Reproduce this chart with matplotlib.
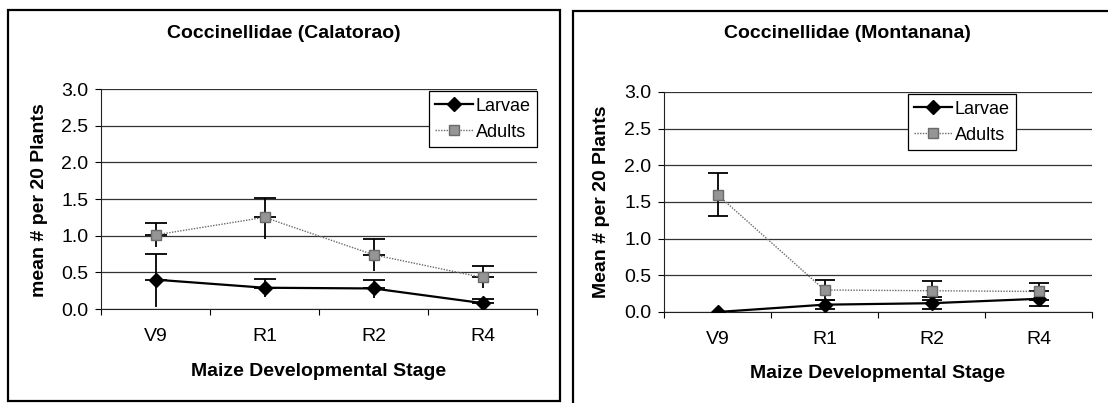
import matplotlib.pyplot as plt
import numpy as np
from matplotlib.patches import Rectangle

plt.rcParams['font.family'] = ['Liberation Sans', 'DejaVu Sans']

stages = ["V9", "R1", "R2", "R4"]
yticks = [0.0, 0.5, 1.0, 1.5, 2.0, 2.5, 3.0]

# Calatorao
cal_larvae = [0.40, 0.29, 0.28, 0.08]
cal_larvae_up = [0.35, 0.12, 0.12, 0.06]
cal_larvae_lo = [0.37, 0.13, 0.13, 0.05]
cal_adults = [1.01, 1.25, 0.74, 0.43]
cal_adults_up = [0.16, 0.27, 0.21, 0.15]
cal_adults_lo = [0.17, 0.29, 0.22, 0.15]

# Montanana
mon_larvae = [0.0, 0.10, 0.12, 0.18]
mon_larvae_err = [0.0, 0.06, 0.08, 0.10]
mon_adults = [1.60, 0.30, 0.29, 0.28]
mon_adults_err = [0.29, 0.13, 0.13, 0.12]

W, H = 1108, 403
fig = plt.figure(figsize=(W / 100, H / 100), dpi=100)


def px(x0, y0, x1, y1):
    # pixel box (top-left origin) -> figure fraction rect
    return [x0 / W, 1 - y1 / H, (x1 - x0) / W, (y1 - y0) / H]


def style_axes(ax):
    x = np.arange(len(stages))
    ax.set_xlim(-0.5, 3.5)
    ax.set_ylim(0, 3.0)
    ax.set_xticks(x)
    ax.set_xticklabels(stages, fontsize=14)
    ax.set_xticks(np.arange(-0.5, 4.0, 1.0), minor=True)
    ax.tick_params(axis='x', which='major', length=0, pad=14)
    ax.tick_params(axis='x', which='minor', length=4, width=0.8, direction='out')
    ax.set_yticks(yticks)
    ax.set_yticklabels([f"{v:.1f}" for v in yticks], fontsize=14)
    ax.tick_params(axis='y', length=4, width=0.8, direction='out', pad=5)
    ax.yaxis.grid(True, color='#333333', linewidth=0.9)
    ax.set_axisbelow(True)
    for s in ['top', 'right']:
        ax.spines[s].set_visible(False)
    ax.spines['left'].set_color('#222222')
    ax.spines['bottom'].set_color('#222222')


def adults_style():
    return dict(color='#6a6a6a', linewidth=1.0, linestyle=(0, (1, 1)),
                marker='s', markersize=7, markerfacecolor='#959595',
                markeredgecolor='#6a6a6a', label='Adults', zorder=4)


def larvae_style():
    return dict(color='black', linewidth=1.6, marker='D', markersize=7,
                label='Larvae', zorder=4)


x = np.arange(len(stages))
bar_kw = dict(fmt='none', ecolor='black', elinewidth=1.3, zorder=3)

# ---- left panel: Calatorao (caps only on the upper end) ----
ax1 = fig.add_axes(px(101, 89, 537, 309))
style_axes(ax1)
for vals, up, lo in [(cal_larvae, cal_larvae_up, cal_larvae_lo),
                     (cal_adults, cal_adults_up, cal_adults_lo)]:
    ax1.errorbar(x, vals, yerr=[np.zeros(4), up], capsize=8, capthick=1.3, **bar_kw)
    ax1.errorbar(x, vals, yerr=[lo, np.zeros(4)], capsize=0, **bar_kw)
ax1.plot(x, cal_larvae, **larvae_style())
ax1.plot(x, cal_adults, **adults_style())

# ---- right panel: Montanana ----
ax2 = fig.add_axes(px(664, 92, 1092, 312))
style_axes(ax2)
ml = np.array(mon_larvae_err) > 0
ax2.errorbar(x[ml], np.array(mon_larvae)[ml], yerr=np.array(mon_larvae_err)[ml],
             capsize=7.5, capthick=1.3, **bar_kw)
ax2.errorbar(x, mon_adults, yerr=mon_adults_err, capsize=7.5, capthick=1.3, **bar_kw)
ax2.plot(x, mon_larvae, **larvae_style())
ax2.plot(x, mon_adults, **adults_style())

for ax, anchor in [(ax1, (1.0, 0.99)), (ax2, (0.822, 0.99))]:
    leg = ax.legend(loc='upper right', bbox_to_anchor=anchor, fontsize=13,
                    handlelength=2.1, handletextpad=0.15, labelspacing=0.5,
                    borderpad=0.35, borderaxespad=0, fancybox=False,
                    framealpha=1, edgecolor='black')
    leg.get_frame().set_linewidth(0.9)
    leg.set_zorder(6)

# titles and axis labels, centred like the original panels
bold = dict(ha='center', va='center', fontsize=14, fontweight='bold')
fig.text(284 / W, 1 - 33 / H, "Coccinellidae (Calatorao)", **bold)
fig.text(847 / W, 1 - 33 / H, "Coccinellidae (Montanana)", **bold)
fig.text(319 / W, 1 - 371 / H, "Maize Developmental Stage", **bold)
fig.text(878 / W, 1 - 374 / H, "Maize Developmental Stage", **bold)
fig.text(40 / W, 1 - 200 / H, "mean # per 20 Plants", rotation=90, **bold)
fig.text(602 / W, 1 - 202 / H, "Mean # per 20 Plants", rotation=90, **bold)

# panel borders
fig.patches.append(Rectangle((8 / W, 2 / H), 552 / W, 391 / H, fill=False,
                             edgecolor='black', linewidth=1.6,
                             transform=fig.transFigure, figure=fig))
fig.patches.append(Rectangle((573 / W, -0.05), 0.6, 1 - 11 / H + 0.05,
                             fill=False, edgecolor='black', linewidth=1.6,
                             transform=fig.transFigure, figure=fig))

fig.savefig("out.png", dpi=100)
